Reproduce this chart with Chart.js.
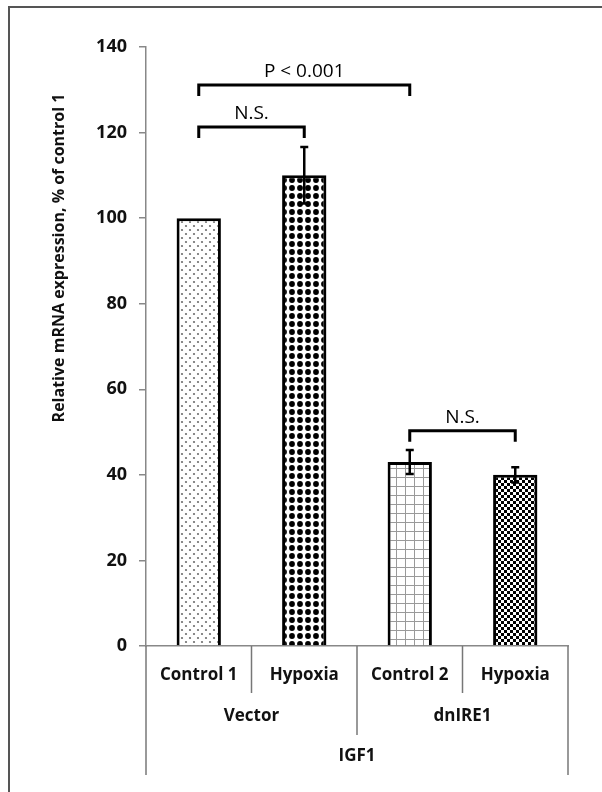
<!DOCTYPE html>
<html>
<head>
<meta charset="utf-8">
<script src="https://cdn.jsdelivr.net/npm/chart.js@4.4.1/dist/chart.umd.min.js"></script>
<style>
  body { margin: 0; background: #fff; }
  canvas { display: block; }
</style>
</head>
<body>
<canvas id="igf1Chart" width="602" height="792"></canvas>
<script>
// data
const categories = ['Control 1', 'Hypoxia', 'Control 2', 'Hypoxia'];
const groups = ['Vector', 'dnIRE1'];
const gene = 'IGF1';
const expression = [100, 110, 43, 40];
const errors = [0, 6.6, 2.8, 1.8];
const yTicks = [0, 20, 40, 60, 80, 100, 120, 140];
// significance brackets: from bar, to bar, level (% units), text
const bracketFrom = [0, 0, 2];
const bracketTo = [2, 1, 3];
const bracketLevel = [131.1, 121.3, 50.3];
const bracketText = ['P < 0.001', 'N.S.', 'N.S.'];

const FONT = '"Open Sans", "DejaVu Sans", sans-serif';

function makePattern(size, draw) {
    const c = document.createElement('canvas');
    c.width = size; c.height = size;
    const g = c.getContext('2d');
    g.fillStyle = '#fff';
    g.fillRect(0, 0, size, size);
    draw(g);
    return document.getElementById('igf1Chart').getContext('2d').createPattern(c, 'repeat');
}

const fineDots = makePattern(8, g => {
    g.fillStyle = '#6e6e6e';
    [[2, 2], [6, 6]].forEach(p => {
        g.beginPath(); g.arc(p[0], p[1], 1.1, 0, Math.PI * 2); g.fill();
    });
});
const bigDots = makePattern(8, g => {
    g.fillStyle = '#000';
    g.beginPath(); g.arc(4, 4, 2.9, 0, Math.PI * 2); g.fill();
});
const gridCells = makePattern(9, g => {
    g.strokeStyle = '#9a9a9a';
    g.lineWidth = 1;
    g.beginPath();
    g.moveTo(0.5, 0); g.lineTo(0.5, 9);
    g.moveTo(0, 0.5); g.lineTo(9, 0.5);
    g.stroke();
});
const checker = makePattern(6, g => {
    g.fillStyle = '#000';
    g.fillRect(0, 0, 3, 3);
    g.fillRect(3, 3, 3, 3);
});

const decorations = {
    id: 'decorations',
    beforeDraw(chart) {
        const ctx = chart.ctx;
        ctx.save();
        ctx.fillStyle = '#fff';
        ctx.fillRect(0, 0, chart.width, chart.height);
        // outer frame (top and left edges visible)
        ctx.strokeStyle = '#555';
        ctx.lineWidth = 2;
        ctx.beginPath();
        ctx.moveTo(9, chart.height);
        ctx.lineTo(9, 7);
        ctx.lineTo(chart.width, 7);
        ctx.stroke();
        ctx.restore();
    },
    afterDatasetsDraw(chart) {
        const ctx = chart.ctx;
        const x = chart.scales.x;
        const y = chart.scales.y;
        const bars = chart.getDatasetMeta(0).data;
        ctx.save();

        // error bars
        ctx.strokeStyle = '#000';
        ctx.lineWidth = 2.5;
        bars.forEach((bar, i) => {
            if (!errors[i]) return;
            const top = y.getPixelForValue(expression[i] + errors[i]);
            const bot = y.getPixelForValue(expression[i] - errors[i]);
            ctx.beginPath();
            ctx.moveTo(bar.x, bot); ctx.lineTo(bar.x, top);
            ctx.moveTo(bar.x - 4, top); ctx.lineTo(bar.x + 4, top);
            ctx.moveTo(bar.x - 4, bot); ctx.lineTo(bar.x + 4, bot);
            ctx.stroke();
        });

        // significance brackets
        ctx.lineWidth = 3;
        ctx.font = '19px ' + FONT;
        ctx.fillStyle = '#000';
        ctx.textAlign = 'center';
        ctx.textBaseline = 'middle';
        bracketLevel.forEach((lvl, k) => {
            const x1 = bars[bracketFrom[k]].x;
            const x2 = bars[bracketTo[k]].x;
            const yy = y.getPixelForValue(lvl);
            ctx.beginPath();
            ctx.moveTo(x1, yy + 11);
            ctx.lineTo(x1, yy);
            ctx.lineTo(x2, yy);
            ctx.lineTo(x2, yy + 11);
            ctx.stroke();
            ctx.fillText(bracketText[k], (x1 + x2) / 2, yy - 13);
        });

        // hierarchical category axis
        const cw = (x.right - x.left) / categories.length;
        const base = y.getPixelForValue(0);
        ctx.strokeStyle = '#777';
        ctx.lineWidth = 1.5;
        for (let e = 0; e <= categories.length; e++) {
            const ex = x.left + e * cw;
            let depth = 47;
            if (e === 0 || e === categories.length) depth = 129;
            else if (e % 2 === 0) depth = 89;
            ctx.beginPath();
            ctx.moveTo(ex, base);
            ctx.lineTo(ex, base + depth);
            ctx.stroke();
        }
        ctx.fillStyle = '#111';
        ctx.font = 'bold 17px ' + FONT;
        categories.forEach((c, i) => {
            ctx.fillText(c, x.left + (i + 0.5) * cw, base + 29);
        });
        groups.forEach((gname, i) => {
            ctx.fillText(gname, x.left + (i + 0.5) * cw * 2, base + 70);
        });
        ctx.fillText(gene, (x.left + x.right) / 2, base + 110);

        // y axis title
        ctx.save();
        ctx.translate(59, 258);
        ctx.rotate(-Math.PI / 2);
        ctx.font = 'bold 16px ' + FONT;
        ctx.fillText('Relative mRNA expression, % of control 1', 0, 0);
        ctx.restore();

        ctx.restore();
    }
};

document.addEventListener('DOMContentLoaded', function() {
    const ctx = document.getElementById('igf1Chart').getContext('2d');
    new Chart(ctx, {
        type: 'bar',
        data: {
            labels: categories,
            datasets: [{
                data: expression,
                backgroundColor: [fineDots, bigDots, gridCells, checker],
                borderColor: '#000',
                borderWidth: 3,
                borderSkipped: 'bottom',
                barPercentage: 0.42,
                categoryPercentage: 1
            }]
        },
        options: {
            responsive: false,
            animation: false,
            devicePixelRatio: 1,
            layout: { padding: { left: 40, right: 34, top: 47, bottom: 16 } },
            plugins: {
                legend: { display: false },
                tooltip: { enabled: false }
            },
            scales: {
                x: {
                    ticks: { display: false },
                    grid: { display: false },
                    border: { color: '#888', width: 1.5 },
                    afterFit: s => { s.height = 130; }
                },
                y: {
                    min: 0,
                    max: 140,
                    afterBuildTicks: s => { s.ticks = yTicks.map(v => ({ value: v })); },
                    afterFit: s => { s.width = 106; },
                    ticks: {
                        padding: 12,
                        color: '#111',
                        font: { family: FONT, size: 18, weight: 'bold' }
                    },
                    grid: { drawOnChartArea: false, tickLength: 7, color: '#888', lineWidth: 1.5 },
                    border: { color: '#888', width: 1.5 }
                }
            }
        },
        plugins: [decorations]
    });
});
</script>
</body>
</html>
